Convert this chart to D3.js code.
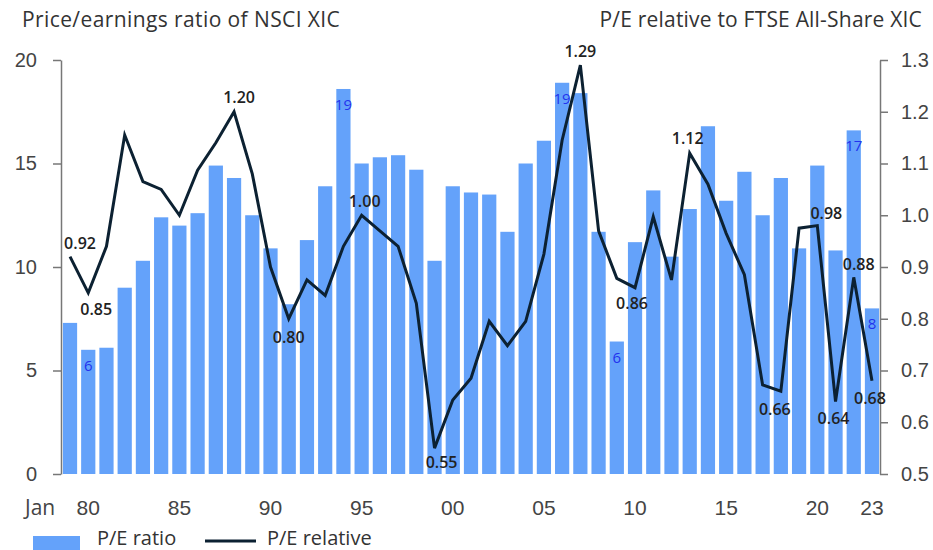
<!DOCTYPE html>
<html>
<head>
<meta charset="utf-8">
<script src="https://cdn.jsdelivr.net/npm/d3@7"></script>
<style>
  body { margin: 0; background: #fff; }
  svg { font-family: 'Open Sans', sans-serif; }
  .axis path, .axis line { stroke: #777; stroke-width: 1.5; }
  .axis text { fill: #444; font-size: 20px; }
</style>
</head>
<body>
<div id="chart"></div>
<script>
(function(d3) {
  'use strict';

  // data
  var years = d3.range(1979, 2024);
  var peRatio = [7.3, 6.0, 6.1, 9.0, 10.3, 12.4, 12.0, 12.6, 14.9, 14.3,
    12.5, 10.9, 8.2, 11.3, 13.9, 18.6, 15.0, 15.3, 15.4, 14.7,
    10.3, 13.9, 13.6, 13.5, 11.7, 15.0, 16.1, 18.9, 18.4, 11.7,
    6.4, 11.2, 13.7, 10.5, 12.8, 16.8, 13.2, 14.6, 12.5, 14.3,
    10.9, 14.9, 10.8, 16.6, 8.0];
  var peRelative = [0.92, 0.85, 0.94, 1.155, 1.065, 1.05, 1.0, 1.087, 1.14, 1.2,
    1.08, 0.9, 0.8, 0.875, 0.845, 0.94, 1.0, 0.97, 0.94, 0.83,
    0.55, 0.643, 0.685, 0.795, 0.748, 0.795, 0.925, 1.145, 1.29, 0.97,
    0.878, 0.86, 0.997, 0.875, 1.12, 1.06, 0.965, 0.885, 0.672, 0.66,
    0.975, 0.98, 0.64, 0.88, 0.68];
  var barLabelYears = [1980, 1994, 2006, 2009, 2022, 2023];
  var lineLabelYears = [1979, 1980, 1988, 1991, 1995, 1999, 2007, 2010, 2013, 2018, 2020, 2021, 2022, 2023];
  var xTickYears = [1980, 1985, 1990, 1995, 2000, 2005, 2010, 2015, 2020, 2023];
  var leftTicks = [0, 5, 10, 15, 20];
  var rightTicks = [0.5, 0.6, 0.7, 0.8, 0.9, 1.0, 1.1, 1.2, 1.3];

  // label offsets (dx, dy from the point)
  var lineLabelPos = {
    1979: [10, -13], 1980: [8, 17], 1988: [5, -14], 1991: [0, 19],
    1995: [3, -14], 1999: [7, 14], 2007: [0, -14], 2010: [-3, 16],
    2013: [-2, -15], 2018: [-6, 18], 2020: [9, -12], 2021: [-2, 17],
    2022: [5, -13], 2023: [-2, 18]
  };

  var width = 933;
  var height = 550;
  var barColor = '#64a2fa';
  var lineColor = '#0c2132';

  var data = years.map(function(y, i) {
    return { year: y, pe: peRatio[i], rel: peRelative[i] };
  });

  var svg = d3.select('#chart')
    .append('svg')
    .attr('width', width)
    .attr('height', height);

  var x = d3.scaleBand()
    .domain(years)
    .range([62, 880])
    .paddingInner(0.22)
    .paddingOuter(0.05);

  var yLeft = d3.scaleLinear().domain([0, 20]).range([474, 60]);
  var yRight = d3.scaleLinear().domain([0.5, 1.3]).range([474, 60]);

  // titles
  svg.append('text')
    .attr('x', 22).attr('y', 27)
    .attr('fill', '#333')
    .style('font-size', '21px')
    .style('letter-spacing', '0.4px')
    .text('Price/earnings ratio of NSCI XIC');

  svg.append('text')
    .attr('x', 922).attr('y', 27)
    .attr('text-anchor', 'end')
    .attr('fill', '#333')
    .style('font-size', '21px')
    .style('letter-spacing', '0.2px')
    .text('P/E relative to FTSE All-Share XIC');

  // bars
  svg.selectAll('.bar')
    .data(data)
    .enter()
    .append('rect')
    .attr('class', 'bar')
    .attr('x', function(d) { return x(d.year); })
    .attr('y', function(d) { return yLeft(d.pe); })
    .attr('width', x.bandwidth())
    .attr('height', function(d) { return yLeft(0) - yLeft(d.pe); })
    .attr('fill', barColor);

  svg.selectAll('.bar-label')
    .data(data.filter(function(d) { return barLabelYears.indexOf(d.year) >= 0; }))
    .enter()
    .append('text')
    .attr('class', 'bar-label')
    .attr('x', function(d) { return x(d.year) + x.bandwidth() / 2; })
    .attr('y', function(d) { return yLeft(d.pe) + 21; })
    .attr('text-anchor', 'middle')
    .attr('fill', '#2233ee')
    .style('font-size', '15px')
    .text(function(d) { return d3.format('.0f')(d.pe); });

  // axes
  svg.append('g')
    .attr('class', 'axis')
    .attr('transform', 'translate(61,0)')
    .call(d3.axisLeft(yLeft).tickValues(leftTicks).tickSize(8).tickSizeOuter(0).tickPadding(16));

  svg.append('g')
    .attr('class', 'axis')
    .attr('transform', 'translate(880,0)')
    .call(d3.axisRight(yRight).tickValues(rightTicks).tickSize(8).tickSizeOuter(0).tickPadding(13)
      .tickFormat(d3.format('.1f')));

  var xAxis = svg.append('g')
    .attr('class', 'axis')
    .attr('transform', 'translate(0,474)')
    .call(d3.axisBottom(x).tickValues(xTickYears).tickSize(0).tickPadding(26)
      .tickFormat(function(d) { return String(d).slice(2); }));
  xAxis.select('.domain').remove();
  xAxis.selectAll('text').style('font-size', '21px');

  svg.append('text')
    .attr('x', 25).attr('y', 515)
    .attr('fill', '#444')
    .style('font-size', '21px')
    .text('Jan');

  // line
  var line = d3.line()
    .x(function(d) { return x(d.year) + x.bandwidth() / 2; })
    .y(function(d) { return yRight(d.rel); });

  svg.append('path')
    .datum(data)
    .attr('d', line)
    .attr('fill', 'none')
    .attr('stroke', lineColor)
    .attr('stroke-width', 3)
    .attr('stroke-linejoin', 'miter');

  svg.selectAll('.line-label')
    .data(data.filter(function(d) { return lineLabelYears.indexOf(d.year) >= 0; }))
    .enter()
    .append('text')
    .attr('class', 'line-label')
    .attr('x', function(d) { return x(d.year) + x.bandwidth() / 2 + lineLabelPos[d.year][0]; })
    .attr('y', function(d) { return yRight(d.rel) + lineLabelPos[d.year][1]; })
    .attr('dy', '0.35em')
    .attr('text-anchor', 'middle')
    .attr('fill', '#222')
    .style('font-size', '16px')
    .style('font-weight', 600)
    .text(function(d) { return d3.format('.2f')(d.rel); });

  // legend
  var legend = svg.append('g');
  legend.append('rect')
    .attr('x', 33).attr('y', 536)
    .attr('width', 47).attr('height', 14)
    .attr('fill', barColor);
  legend.append('text')
    .attr('x', 97).attr('y', 545)
    .attr('fill', '#333')
    .style('font-size', '20px')
    .text('P/E ratio');
  legend.append('line')
    .attr('x1', 205).attr('x2', 256)
    .attr('y1', 541).attr('y2', 541)
    .attr('stroke', lineColor)
    .attr('stroke-width', 3);
  legend.append('text')
    .attr('x', 267).attr('y', 545)
    .attr('fill', '#333')
    .style('font-size', '20px')
    .text('P/E relative');

})(window.d3);
</script>
</body>
</html>
